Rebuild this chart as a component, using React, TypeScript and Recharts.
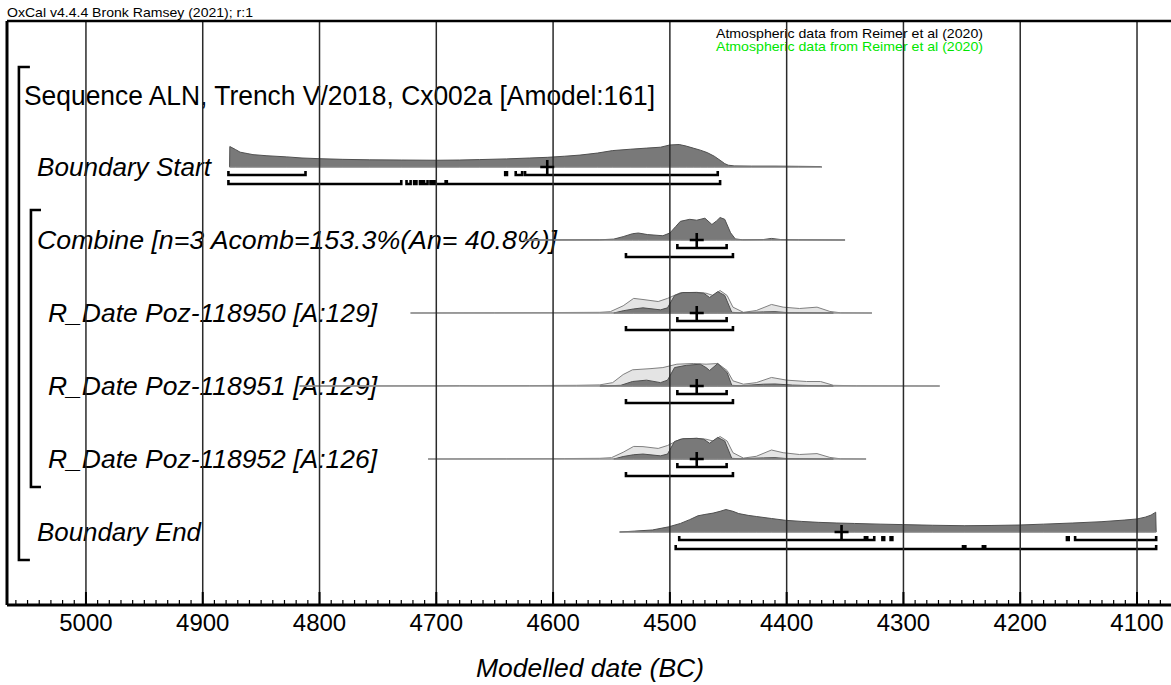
import React from 'react';
import { ComposedChart, XAxis, YAxis, Area, Line, Scatter, ReferenceLine } from 'recharts';

// ---------- axis ----------
const DOMAIN_LEFT = 5067.6;
const DOMAIN_RIGHT = 4070.9;
const majorTicks = [5000, 4900, 4800, 4700, 4600, 4500, 4400, 4300, 4200, 4100];
const allTicks: number[] = [];
for (let v = 5060; v >= 4080; v -= 10) allTicks.push(v);
const axisTitle = 'Modelled date (BC)';

// ---------- rows (baseline in row units) ----------
const rowNames = [
  'Boundary Start',
  'Combine [n=3 Acomb=153.3%(An= 40.8%)]',
  'R_Date Poz-118950 [A:129]',
  'R_Date Poz-118951 [A:129]',
  'R_Date Poz-118952 [A:126]',
  'Boundary End',
];
const rowBase = [6, 5, 4, 3, 2, 1];
const rowIndent = [37, 37, 48, 48, 48, 37];
const rowLabelWidth = [174, 520, 329, 329, 329, 164];
const sequenceTitle = 'Sequence ALN, Trench V/2018, Cx002a [Amodel:161]';

// ---------- densities: [year BC, relative probability %] ----------
const startDensity: [number, number][] = [
  [4877, 0], [4876.8, 91], [4872, 78], [4868, 66], [4862, 60], [4857, 55], [4845, 50], [4828, 45],
  [4815, 40], [4800, 37], [4780, 34], [4757, 32], [4730, 31], [4700, 30], [4680, 31], [4663, 33],
  [4640, 36], [4620, 40], [4605, 43], [4590, 48], [4577, 53], [4562, 62], [4549, 73], [4534, 79],
  [4520, 84], [4508, 88], [4500, 98], [4492, 100], [4486, 93], [4480, 84], [4474, 75], [4468, 64],
  [4462, 48], [4457, 30], [4453, 15], [4450, 8], [4445, 5], [4430, 4], [4410, 4], [4390, 3],
  [4371, 2], [4370, 0],
];
const combineDensity: [number, number][] = [
  [4625, 0], [4560, 1], [4548, 4], [4540, 15], [4532, 28], [4527, 31], [4519, 24], [4506, 19],
  [4500, 31], [4495, 60], [4491, 83], [4483, 92], [4477, 88], [4470, 97], [4464, 69], [4460, 85],
  [4457, 100], [4453, 92], [4448, 32], [4444, 5], [4438, 1], [4420, 2], [4413, 7], [4405, 2],
  [4390, 1], [4350, 0],
];
const r950Likelihood: [number, number][] = [
  [4722, 0], [4650, 1], [4600, 2], [4560, 3], [4551, 6], [4540, 32], [4531, 65], [4523, 60],
  [4510, 51], [4502, 65], [4491, 90], [4477, 92], [4469, 88], [4463, 78], [4457, 100], [4451, 78],
  [4446, 26], [4437, 3], [4426, 11], [4413, 38], [4403, 26], [4389, 20], [4374, 26], [4363, 7],
  [4354, 1], [4327, 0],
];
const r950Posterior: [number, number][] = [
  [4548, 0], [4540, 10], [4531, 18], [4523, 23], [4508, 14], [4502, 23], [4496, 78], [4489, 91],
  [4477, 91], [4471, 88], [4466, 69], [4459, 95], [4453, 78], [4447, 3], [4440, 1], [4420, 5],
  [4410, 6], [4400, 2], [4380, 1], [4360, 0],
];
const r951Likelihood: [number, number][] = [
  [4817, 0], [4700, 1], [4680, 2], [4660, 1], [4620, 2], [4580, 3], [4560, 5], [4549, 15],
  [4540, 51], [4532, 72], [4517, 77], [4506, 82], [4494, 97], [4480, 100], [4469, 97], [4459, 100],
  [4451, 69], [4446, 23], [4437, 8], [4426, 15], [4413, 38], [4400, 26], [4383, 20], [4371, 20],
  [4360, 3], [4340, 1], [4269, 0],
];
const r951Posterior: [number, number][] = [
  [4560, 0], [4542, 3], [4532, 20], [4520, 26], [4508, 15], [4502, 26], [4496, 82], [4486, 92],
  [4474, 97], [4469, 82], [4466, 69], [4459, 100], [4451, 60], [4447, 3], [4440, 1], [4420, 8],
  [4410, 9], [4395, 4], [4380, 2], [4360, 0],
];
const r952Likelihood: [number, number][] = [
  [4707, 0], [4640, 1], [4590, 2], [4560, 3], [4550, 6], [4540, 30], [4531, 56], [4523, 55],
  [4510, 47], [4502, 60], [4491, 88], [4477, 92], [4469, 88], [4463, 80], [4457, 100], [4451, 80],
  [4446, 28], [4437, 4], [4426, 12], [4413, 40], [4403, 28], [4389, 20], [4374, 24], [4363, 7],
  [4354, 1], [4332, 0],
];
const r952Posterior: [number, number][] = [
  [4548, 0], [4540, 11], [4531, 19], [4523, 22], [4508, 14], [4502, 22], [4496, 78], [4489, 90],
  [4477, 92], [4471, 88], [4466, 70], [4459, 96], [4453, 80], [4447, 3], [4440, 1], [4420, 5],
  [4410, 6], [4400, 2], [4380, 1], [4360, 0],
];
const endDensity: [number, number][] = [
  [4543, 0], [4530, 4], [4515, 9], [4501, 23], [4491, 38], [4483, 55], [4476, 72], [4470, 78],
  [4463, 84], [4457, 92], [4452, 100], [4446, 92], [4441, 82], [4433, 74], [4426, 69], [4413, 60],
  [4401, 52], [4387, 47], [4373, 43], [4357, 40], [4342, 38], [4320, 35], [4301, 33], [4275, 30],
  [4248, 28], [4225, 29], [4201, 31], [4180, 35], [4155, 40], [4130, 46], [4111, 53], [4100, 58],
  [4093, 66], [4088, 75], [4085, 85], [4084, 88], [4083.6, 0],
];

// ---------- baselines [from, to] ----------
const rowSpan: [number, number][] = [
  [4877, 4370], [4625, 4350], [4722, 4327], [4817, 4269], [4707, 4332], [4543, 4083.6],
];

// ---------- highest posterior density ranges ----------
const start68: [number, number][] = [[4878, 4812], [4641, 4639.5], [4632, 4626.5], [4624, 4459]];
const start95: [number, number][] = [
  [4878, 4730], [4725.5, 4722], [4719, 4717], [4714, 4712.5], [4710.5, 4707.5], [4705, 4703],
  [4701, 4692], [4691, 4457],
];
const date68: [number, number][] = [[4493.6, 4451.4]];
const date95: [number, number][] = [[4537.6, 4446]];
const end68: [number, number][] = [
  [4492, 4333], [4331, 4325], [4318, 4316.5], [4311, 4309.5], [4160, 4158.5], [4153, 4083.6],
];
const end95: [number, number][] = [[4495, 4249], [4247, 4232], [4230, 4083.6]];
const rangesByRow = [
  [start68, start95], [date68, date95], [date68, date95], [date68, date95], [date68, date95], [end68, end95],
];

// ---------- means ----------
const rowMean = [4605, 4477, 4477, 4477, 4477, 4353];

// ---------- bracket positions (year, row units) ----------
const seqBracket = { x: 5057.4, tip: 5048, top: 7.37, bottom: 0.616 };
const combBracket = { x: 5047.1, tip: 5038.5, top: 5.41, bottom: 1.616 };

// ---------- scales / styles ----------
const PEAK = 0.308; // row units for 100%
const OFF68 = 0.11;
const OFF95 = 0.233;
const TICK = 0.055;
const FONT = '"Liberation Sans", Arial, sans-serif';
const W = 1171;
const H = 685;
const TOP = 21;
const BOTTOM = 605;
const AXIS_H = 30;
const UNIT = (BOTTOM - TOP) / 8;
const rowPx = (b: number) => BOTTOM - b * UNIT;

const toArea = (d: [number, number][], base: number) =>
  d.map(([x, p]) => ({ x, y: [base, base + (p / 100) * PEAK] }));

const bracketPts = (ranges: [number, number][], base: number, off: number) => {
  const y = base - off;
  const pts: { x: number; y: number | null }[] = [];
  ranges.forEach(([a, b]) => {
    pts.push({ x: a, y: y + TICK }, { x: a, y }, { x: b, y }, { x: b, y: y + TICK }, { x: b, y: null });
  });
  return pts;
};

const bracketLine = (br: { x: number; tip: number; top: number; bottom: number }) => [
  { x: br.tip, y: br.top },
  { x: br.x, y: br.top },
  { x: br.x, y: br.bottom },
  { x: br.tip, y: br.bottom },
];

const Cross = (props: any) => {
  const { cx, cy } = props;
  return (
    <path
      d={`M${cx - 7},${cy}L${cx + 7},${cy}M${cx},${cy - 7}L${cx},${cy + 7}`}
      stroke="#000"
      strokeWidth={2.6}
      fill="none"
    />
  );
};

const AxisTick = (props: any) => {
  const { x, y, payload } = props;
  const v = payload.value as number;
  const major = v % 100 === 0;
  return (
    <g>
      <line x1={x} x2={x} y1={y} y2={y - (major ? 13 : 5)} stroke="#000" strokeWidth={major ? 2 : 1.2} />
      {major && (
        <text x={x} y={y + 26} textAnchor="middle" fontSize={24} fontFamily={FONT} fill="#000">
          {v}
        </text>
      )}
    </g>
  );
};

const posteriorRows = [
  { base: 6, data: startDensity },
  { base: 5, data: combineDensity },
  { base: 4, data: r950Posterior },
  { base: 3, data: r951Posterior },
  { base: 2, data: r952Posterior },
  { base: 1, data: endDensity },
];
const likelihoodRows = [
  { base: 4, data: r950Likelihood },
  { base: 3, data: r951Likelihood },
  { base: 2, data: r952Likelihood },
];

export default function App() {
  return (
    <div style={{ position: 'absolute', left: 0, top: 0, width: W, height: H, background: '#fff' }}>
      <ComposedChart width={W} height={H} margin={{ top: TOP, right: 0, bottom: H - BOTTOM - AXIS_H, left: 7 }}>
        <XAxis
          type="number"
          dataKey="x"
          domain={[DOMAIN_RIGHT, DOMAIN_LEFT]}
          reversed
          allowDataOverflow
          height={AXIS_H}
          ticks={allTicks}
          interval={0}
          tickSize={0}
          tickMargin={0}
          tickLine={false}
          tick={<AxisTick />}
          axisLine={{ stroke: '#000', strokeWidth: 3 }}
        />
        <YAxis type="number" dataKey="y" domain={[0, 8]} allowDataOverflow hide />

        {rowSpan.map(([a, b], i) => (
          <Line
            key={'base' + i}
            data={[{ x: a, y: rowBase[i] }, { x: b, y: rowBase[i] }]}
            dataKey="y"
            stroke="#9a9a9a"
            strokeWidth={1.2}
            dot={false}
            isAnimationActive={false}
          />
        ))}

        {likelihoodRows.map((r, i) => (
          <Area
            key={'lik' + i}
            data={toArea(r.data, r.base)}
            dataKey="y"
            type="linear"
            fill="#e4e4e4"
            fillOpacity={1}
            stroke="#808080"
            strokeWidth={1}
            isAnimationActive={false}
          />
        ))}
        {posteriorRows.map((r, i) => (
          <Area
            key={'post' + i}
            data={toArea(r.data, r.base)}
            dataKey="y"
            type="linear"
            fill="#797979"
            fillOpacity={1}
            stroke="#505050"
            strokeWidth={1}
            isAnimationActive={false}
          />
        ))}

        {rangesByRow.map(([r68, r95], i) => (
          <Line
            key={'r68' + i}
            data={bracketPts(r68, rowBase[i], OFF68)}
            dataKey="y"
            stroke="#000"
            strokeWidth={2.6}
            dot={false}
            strokeLinejoin="miter"
            isAnimationActive={false}
          />
        ))}
        {rangesByRow.map(([r68, r95], i) => (
          <Line
            key={'r95' + i}
            data={bracketPts(r95, rowBase[i], OFF95)}
            dataKey="y"
            stroke="#000"
            strokeWidth={2.6}
            dot={false}
            strokeLinejoin="miter"
            isAnimationActive={false}
          />
        ))}

        <Line data={bracketLine(seqBracket)} dataKey="y" stroke="#000" strokeWidth={2.6} dot={false} isAnimationActive={false} />
        <Line data={bracketLine(combBracket)} dataKey="y" stroke="#000" strokeWidth={2.6} dot={false} isAnimationActive={false} />

        <Scatter
          data={rowMean.map((m, i) => ({ x: m, y: rowBase[i] }))}
          shape={<Cross />}
          isAnimationActive={false}
        />

        {majorTicks.map((v) => (
          <ReferenceLine key={'g' + v} x={v} stroke="#2a2a2a" strokeWidth={1.5} />
        ))}
        <ReferenceLine x={DOMAIN_LEFT} stroke="#000" strokeWidth={3} />
        <ReferenceLine y={8} stroke="#000" strokeWidth={2.5} />

        <g fontFamily={FONT}>
          <text x={7} y={17} fontSize={13} fill="#000" textLength={246} lengthAdjust="spacingAndGlyphs">
            OxCal v4.4.4 Bronk Ramsey (2021); r:1
          </text>
          <text x={716} y={38} fontSize={13} fill="#000" textLength={267} lengthAdjust="spacingAndGlyphs">
            Atmospheric data from Reimer et al (2020)
          </text>
          <text x={716} y={51} fontSize={13} fill="#00e600" textLength={267} lengthAdjust="spacingAndGlyphs">
            Atmospheric data from Reimer et al (2020)
          </text>
          <text x={24} y={105} fontSize={27} fill="#000" textLength={631} lengthAdjust="spacingAndGlyphs">
            {sequenceTitle}
          </text>
          {rowNames.map((n, i) => (
            <text
              key={n}
              x={rowIndent[i]}
              y={rowPx(rowBase[i]) + 9}
              fontSize={26}
              fontStyle="italic"
              fill="#000"
              textLength={rowLabelWidth[i]}
              lengthAdjust="spacingAndGlyphs"
            >
              {n}
            </text>
          ))}
          <text x={590} y={677} fontSize={26} fontStyle="italic" textAnchor="middle" fill="#000" textLength={228} lengthAdjust="spacingAndGlyphs">
            {axisTitle}
          </text>
        </g>
      </ComposedChart>
    </div>
  );
}
